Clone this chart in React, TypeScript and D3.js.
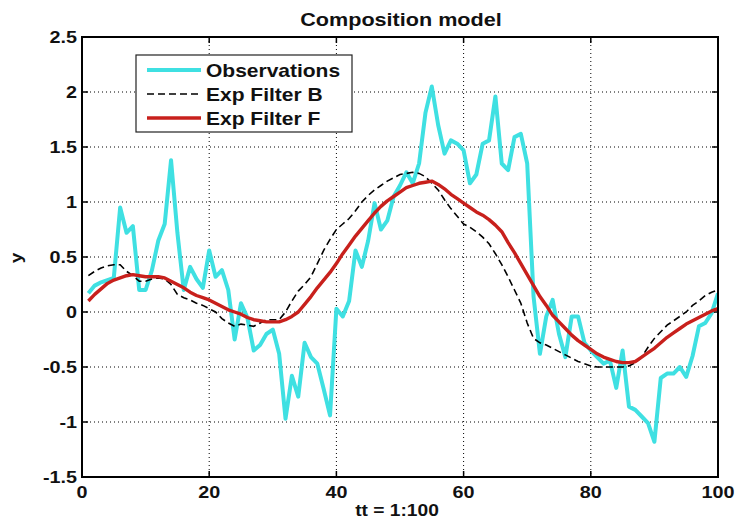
import React from "react";
import * as d3 from "d3";

const tt: number[] = Array.from({ length: 100 }, (_, i) => i + 1);

const observations: number[] = [
  0.17, 0.24, 0.27, 0.29, 0.31, 0.95, 0.72, 0.78, 0.2, 0.2,
  0.38, 0.65, 0.8, 1.38, 0.72, 0.2, 0.41, 0.3, 0.22, 0.56,
  0.32, 0.38, 0.2, -0.25, 0.08, -0.05, -0.35, -0.3, -0.2, -0.16,
  -0.38, -0.97, -0.58, -0.77, -0.28, -0.41, -0.47, -0.7, -0.94, 0.03,
  -0.04, 0.1, 0.56, 0.41, 0.65, 0.99, 0.75, 0.83, 1.05, 1.15,
  1.27, 1.17, 1.35, 1.81, 2.05, 1.7, 1.44, 1.56, 1.53, 1.47,
  1.17, 1.25, 1.53, 1.56, 1.96, 1.35, 1.29, 1.59, 1.62, 1.35,
  0.14, -0.38, -0.04, 0.11, -0.2, -0.41, -0.04, -0.04, -0.28, -0.35,
  -0.41, -0.47, -0.44, -0.69, -0.35, -0.86, -0.89, -0.95, -1.01, -1.18,
  -0.6, -0.56, -0.56, -0.5, -0.59, -0.4, -0.13, -0.1, -0.01, 0.17,
];

const filterB: number[] = [
  0.33, 0.37, 0.4, 0.42, 0.43, 0.43, 0.37, 0.33, 0.28, 0.28,
  0.3, 0.31, 0.3, 0.25, 0.16, 0.13, 0.11, 0.08, 0.06, 0.03,
  0.0, -0.06, -0.1, -0.13, -0.11, -0.12, -0.13, -0.1, -0.07, -0.07,
  -0.07, 0.0, 0.1, 0.19, 0.25, 0.32, 0.44, 0.56, 0.66, 0.75,
  0.8, 0.85, 0.92, 1.0, 1.06, 1.11, 1.15, 1.19, 1.22, 1.25,
  1.26, 1.27, 1.26, 1.23, 1.17, 1.11, 1.02, 0.94, 0.87, 0.8,
  0.77, 0.73, 0.68, 0.62, 0.53, 0.43, 0.32, 0.2, 0.08, -0.1,
  -0.24, -0.28, -0.3, -0.33, -0.36, -0.39, -0.42, -0.45, -0.47, -0.49,
  -0.5, -0.5, -0.5, -0.5, -0.5, -0.49, -0.46, -0.41, -0.32, -0.24,
  -0.18, -0.12, -0.08, -0.04, 0.0, 0.06, 0.1, 0.15, 0.18, 0.2,
];

const filterF: number[] = [
  0.1, 0.16, 0.21, 0.26, 0.29, 0.31, 0.33, 0.34, 0.33, 0.32,
  0.32, 0.32, 0.31, 0.28, 0.25, 0.22, 0.18, 0.15, 0.13, 0.11,
  0.08, 0.05, 0.02, 0.0, -0.02, -0.05, -0.07, -0.08, -0.09, -0.09,
  -0.09, -0.07, -0.04, 0.0, 0.07, 0.14, 0.22, 0.29, 0.36, 0.44,
  0.53, 0.61, 0.69, 0.76, 0.83, 0.9, 0.96, 1.01, 1.05, 1.09,
  1.13, 1.15, 1.17, 1.18, 1.19, 1.16, 1.12, 1.07, 1.03, 0.99,
  0.95, 0.91, 0.88, 0.84, 0.79, 0.73, 0.63, 0.54, 0.44, 0.34,
  0.24, 0.14, 0.06, -0.03, -0.09, -0.15, -0.21, -0.26, -0.3, -0.34,
  -0.38, -0.41, -0.43, -0.45, -0.46, -0.46, -0.45, -0.41, -0.37, -0.33,
  -0.28, -0.23, -0.19, -0.15, -0.11, -0.08, -0.05, -0.02, 0.01, 0.03,
];

const xTicks: number[] = [0, 20, 40, 60, 80, 100];
const yTicks: number[] = [-1.5, -1, -0.5, 0, 0.5, 1, 1.5, 2, 2.5];
const legendLabels: string[] = ["Observations", "Exp Filter B", "Exp Filter F"];

const W = 737;
const H = 519;
const L = 82, R = 718, T = 37, B = 477;
const FONT = "'Liberation Sans', Arial, sans-serif";
const CYAN = "#3fe0e2";
const RED = "#c8201c";
const SX = 1.2;

function Txt(props: { x: number; y: number; size: number; anchor?: string; rotate?: number; children: React.ReactNode }) {
  const { x, y, size, anchor = "start", rotate = 0, children } = props;
  return (
    <g transform={`translate(${x},${y}) rotate(${rotate}) scale(${SX},1)`}>
      <text x={0} y={0} textAnchor={anchor as any} fontFamily={FONT} fontWeight="bold" fontSize={size} fill="#111">
        {children}
      </text>
    </g>
  );
}

export default function App() {
  const x = d3.scaleLinear().domain([0, 100]).range([L, R]);
  const y = d3.scaleLinear().domain([-1.5, 2.5]).range([B, T]);
  const line = (vals: number[]) =>
    d3.line<number>().x((_, i) => x(tt[i])).y((d) => y(d))(vals) || "";

  const legendRows = [
    { label: legendLabels[0], color: CYAN, width: 4, dash: undefined as string | undefined },
    { label: legendLabels[1], color: "#000", width: 1.6, dash: "7,4" },
    { label: legendLabels[2], color: RED, width: 3.4, dash: undefined },
  ];
  const legendY = [70, 94, 118];

  return (
    <svg width={W} height={H} style={{ position: "absolute", left: 0, top: 0, background: "#fff" }}>
      <rect x={0} y={0} width={W} height={H} fill="#fff" />
      <defs>
        <clipPath id="plotclip">
          <rect x={L} y={T} width={R - L} height={B - T} />
        </clipPath>
      </defs>
      {/* grid */}
      {xTicks.slice(1, -1).map((t) => (
        <line key={"gx" + t} x1={x(t)} x2={x(t)} y1={T} y2={B} stroke="#000" strokeWidth={1} strokeDasharray="1,3" />
      ))}
      {yTicks.slice(1, -1).map((t) => (
        <line key={"gy" + t} x1={L} x2={R} y1={y(t)} y2={y(t)} stroke="#000" strokeWidth={1} strokeDasharray="1,3" />
      ))}
      {/* ticks */}
      {xTicks.map((t) => (
        <g key={"tx" + t}>
          <line x1={x(t)} x2={x(t)} y1={B} y2={B - 6} stroke="#000" strokeWidth={1.5} />
          <line x1={x(t)} x2={x(t)} y1={T} y2={T + 6} stroke="#000" strokeWidth={1.5} />
          <Txt x={x(t)} y={498} size={16.5} anchor="middle">{t}</Txt>
        </g>
      ))}
      {yTicks.map((t) => (
        <g key={"ty" + t}>
          <line x1={L} x2={L + 6} y1={y(t)} y2={y(t)} stroke="#000" strokeWidth={1.5} />
          <line x1={R} x2={R - 6} y1={y(t)} y2={y(t)} stroke="#000" strokeWidth={1.5} />
          <Txt x={77} y={y(t) + 6} size={16.5} anchor="end">{t}</Txt>
        </g>
      ))}
      {/* series */}
      <g clipPath="url(#plotclip)">
        <path d={line(observations)} fill="none" stroke={CYAN} strokeWidth={4} strokeLinejoin="round" />
        <path d={line(filterB)} fill="none" stroke="#000" strokeWidth={1.6} strokeDasharray="7,4" />
        <path d={line(filterF)} fill="none" stroke={RED} strokeWidth={3.4} strokeLinejoin="round" />
      </g>
      {/* box */}
      <rect x={L} y={T} width={R - L} height={B - T} fill="none" stroke="#000" strokeWidth={2} />
      {/* legend */}
      <rect x={136} y={55} width={216} height={77} fill="#fff" stroke="#222" strokeWidth={1.2} />
      {legendRows.map((r, i) => (
        <g key={r.label}>
          <line x1={147} x2={201} y1={legendY[i]} y2={legendY[i]} stroke={r.color} strokeWidth={r.width} strokeDasharray={r.dash} />
          <Txt x={206} y={legendY[i] + 6.5} size={17.5}>{r.label}</Txt>
        </g>
      ))}
      {/* labels */}
      <Txt x={401} y={26} size={18} anchor="middle">Composition model</Txt>
      <Txt x={397} y={516} size={16} anchor="middle">tt = 1:100</Txt>
      <Txt x={22} y={258} size={16} anchor="middle" rotate={-90}>y</Txt>
    </svg>
  );
}
